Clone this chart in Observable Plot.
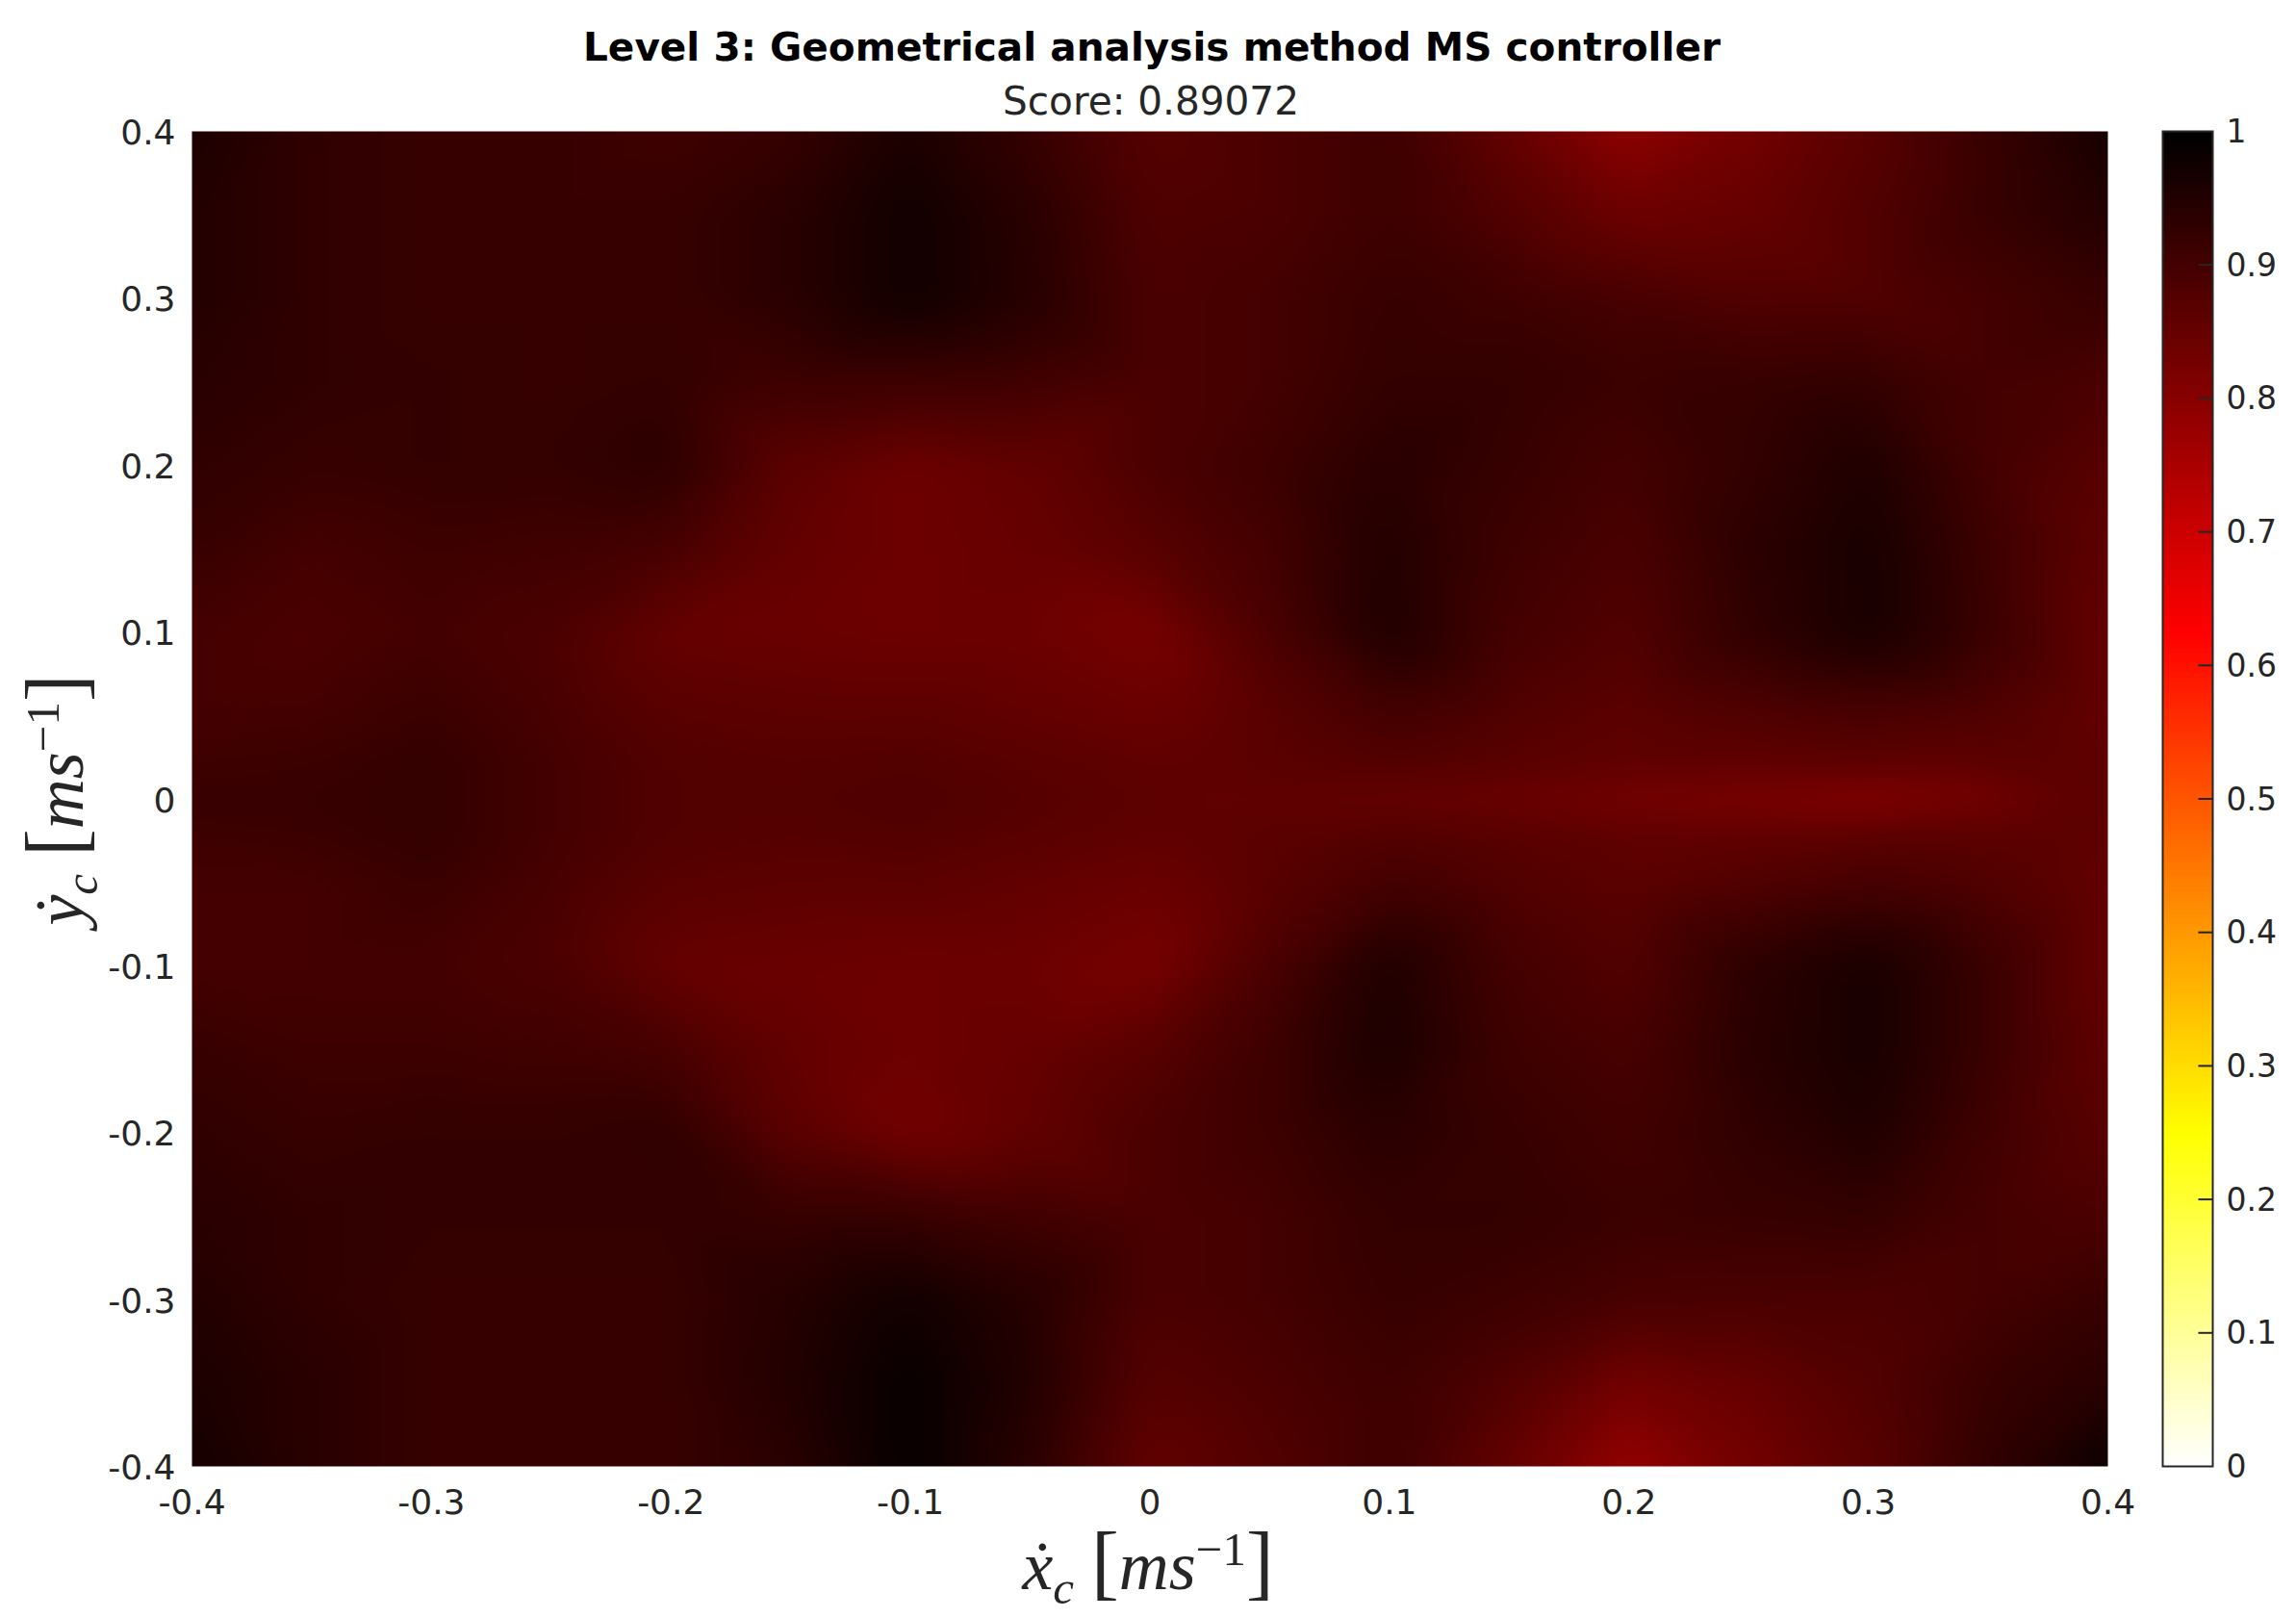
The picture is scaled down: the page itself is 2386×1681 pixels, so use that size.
<!DOCTYPE html>
<html><head><meta charset="utf-8">
<script src="https://cdn.jsdelivr.net/npm/d3@7"></script>
<script src="https://cdn.jsdelivr.net/npm/@observablehq/plot@0.6"></script>
<style>
html,body{margin:0;padding:0;background:#fff}
#page{position:relative;width:2386px;height:1681px;overflow:hidden;font-family:"DejaVu Sans",sans-serif;color:#000}
#page svg{position:absolute;top:100px;background:transparent}
.t{position:absolute;white-space:nowrap;text-align:center;transform:translate(-50%,-50%)}
.m{font-family:"Liberation Serif",serif;color:#262626;line-height:1}
.m i{font-style:italic}
.m sub,.m sup{font-size:.68em;line-height:0}
</style></head><body><div id="page"></div>
<script>
const titleText = "Level 3: Geometrical analysis method MS controller";
const scoreText = "Score: 0.89072";
const xTicks = [-0.4,-0.3,-0.2,-0.1,0,0.1,0.2,0.3,0.4];
const yTicks = [-0.4,-0.3,-0.2,-0.1,0,0.1,0.2,0.3,0.4];
const barTicks = [0,0.1,0.2,0.3,0.4,0.5,0.6,0.7,0.8,0.9,1];
const xGrid = [-0.4,-0.35,-0.3,-0.25,-0.2,-0.15,-0.1,-0.05,0,0.05,0.1,0.15,0.2,0.25,0.3,0.35,0.4];
const yGrid = [0.4,0.35,0.3,0.25,0.2,0.15,0.1,0.05,0.02,0,-0.02,-0.05,-0.1,-0.15,-0.2,-0.25,-0.3,-0.35,-0.4];
const rowP40 = [.96,.93,.92,.92,.91,.92,.96,.92,.875,.89,.91,.85,.79,.83,.87,.92,.97];
const rowP35 = [.95,.93,.92,.92,.92,.94,.975,.94,.885,.89,.91,.88,.84,.85,.88,.92,.95];
const rowP30 = [.95,.93,.92,.92,.92,.94,.975,.945,.89,.90,.92,.91,.895,.88,.88,.90,.92];
const rowP25 = [.94,.93,.925,.92,.925,.91,.91,.905,.89,.90,.925,.925,.915,.92,.925,.90,.89];
const rowP20 = [.93,.92,.925,.925,.935,.865,.84,.855,.89,.91,.94,.92,.90,.925,.955,.90,.87];
const rowP15 = [.92,.90,.91,.905,.895,.855,.84,.85,.87,.90,.95,.91,.89,.935,.965,.91,.86];
const rowP10 = [.90,.89,.90,.89,.85,.845,.84,.84,.825,.89,.955,.90,.88,.93,.965,.915,.85];
const rowP05 = [.90,.90,.915,.895,.87,.865,.865,.855,.845,.87,.90,.88,.865,.88,.89,.88,.85];
const rowP02 = [.91,.915,.925,.90,.88,.875,.88,.87,.86,.87,.88,.87,.86,.86,.865,.865,.86];
const row000 = [.92,.92,.925,.90,.88,.88,.885,.875,.865,.855,.845,.84,.825,.815,.80,.825,.865];
const rowM02 = [.91,.915,.925,.90,.88,.875,.88,.87,.86,.87,.88,.87,.86,.86,.865,.865,.86];
const rowM05 = [.90,.90,.915,.895,.87,.865,.865,.855,.845,.87,.90,.88,.865,.88,.895,.88,.85];
const rowM10 = [.90,.90,.90,.89,.85,.845,.84,.84,.825,.89,.955,.90,.88,.935,.965,.915,.85];
const rowM15 = [.92,.91,.91,.905,.895,.855,.84,.85,.87,.91,.96,.91,.895,.94,.965,.915,.86];
const rowM20 = [.93,.92,.925,.925,.93,.865,.83,.855,.89,.91,.94,.92,.905,.93,.955,.905,.87];
const rowM25 = [.94,.93,.925,.925,.925,.92,.92,.905,.89,.90,.925,.925,.915,.92,.925,.90,.89];
const rowM30 = [.95,.93,.92,.92,.92,.945,.975,.945,.89,.90,.92,.91,.895,.89,.89,.90,.92];
const rowM35 = [.96,.94,.92,.92,.92,.95,.99,.95,.875,.89,.91,.88,.83,.85,.88,.92,.94];
const rowM40 = [.97,.94,.92,.92,.92,.94,.99,.94,.855,.88,.91,.85,.78,.83,.87,.93,.985];
const rows = [rowP40,rowP35,rowP30,rowP25,rowP20,rowP15,rowP10,rowP05,rowP02,row000,rowM02,rowM05,rowM10,rowM15,rowM20,rowM25,rowM30,rowM35,rowM40];
const cells = rows.flatMap((r,j)=>r.map((v,i)=>({x:xGrid[i],y:yGrid[j],v})));

const cl = x=>Math.max(0,Math.min(1,x));
const hotR = t=>{const s=1-t;return `rgb(${Math.round(255*cl(s/.375))},${Math.round(255*cl((s-.375)/.375))},${Math.round(255*cl((s-.75)/.25))})`;};
const colorOpt = {type:"linear",domain:[0,1],interpolate:hotR};
const ink="#262626", fs=36;
const fmt=d=>String(d);

const main = Plot.plot({
  width:2230,height:1581,marginLeft:199,marginRight:40,marginTop:36,marginBottom:158,
  style:{fontFamily:"DejaVu Sans",background:"transparent"},
  x:{domain:[-0.4,0.4],label:null},
  y:{domain:[-0.4,0.4],label:null},
  color:colorOpt,
  marks:[
    Plot.raster(cells,{x:"x",y:"y",fill:"v",x1:-0.4,x2:0.4,y1:-0.4,y2:0.4,interpolate:"barycentric",pixelSize:2,blur:8}),
    Plot.axisX(xTicks,{tickSize:0,tickPadding:24,tickFormat:fmt,fontSize:fs,fill:ink,label:null}),
    Plot.axisY(yTicks,{tickSize:0,tickPadding:17,tickFormat:fmt,fontSize:fs,fill:ink,dy:2,label:null})
  ]
});
main.style.left="0px";

const bar = Plot.plot({
  width:156,height:1581,marginLeft:17,marginRight:87,marginTop:36,marginBottom:158,
  style:{fontFamily:"DejaVu Sans",background:"transparent"},
  x:{domain:[0,1],axis:null},
  y:{domain:[0,1],label:null},
  color:colorOpt,
  marks:[
    Plot.raster({fill:(x,y)=>y,x1:0,x2:1,y1:0,y2:1,width:1,height:512,imageRendering:"auto"}),
    Plot.ruleY(barTicks.slice(1,-1),{x1:0.72,x2:1,stroke:ink,strokeWidth:2}),
    Plot.frame({stroke:ink,strokeWidth:2}),
    Plot.axisY(barTicks,{anchor:"right",tickSize:0,tickPadding:14,tickFormat:fmt,fontSize:33,fill:ink,dy:1,label:null})
  ]
});
bar.style.left="2230px";

const page=document.getElementById("page");
page.append(main,bar);
function label(html,cls,left,top,extra){const d=document.createElement("div");d.className="t "+cls;d.style.left=left+"px";d.style.top=top+"px";d.innerHTML=html;if(extra)Object.assign(d.style,extra);page.append(d);}
label(titleText,"",1197,49,{fontWeight:"bold",fontSize:"40.6px"});
label(scoreText,"",1196,105,{fontSize:"40.6px",color:ink});
const xLab=`<i>\u1E8B<sub>c</sub></i>&nbsp;<span style="font-size:1.2em">[</span><i>ms</i><sup>\u22121</sup><span style="font-size:1.2em">]</span>`;
const yLab=`<i>\u1E8F<sub>c</sub></i>&nbsp;<span style="font-size:1.2em">[</span><i>ms</i><sup>\u22121</sup><span style="font-size:1.2em">]</span>`;
label(xLab,"m",1193,1622,{fontSize:"72px"});
label(yLab,"m",57,831,{fontSize:"72px",transform:"translate(-50%,-50%) rotate(-90deg)"});
</script></body></html>
